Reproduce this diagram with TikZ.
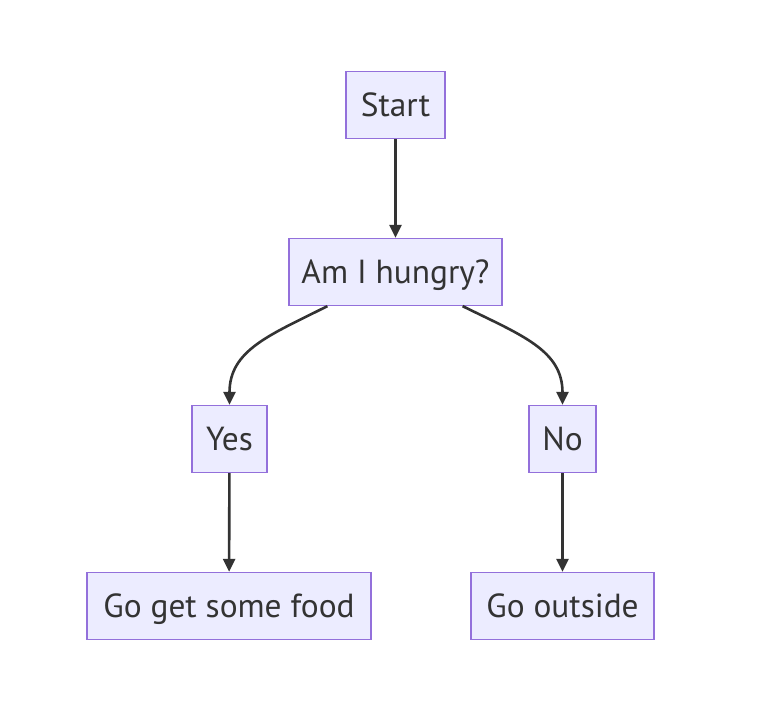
\documentclass[tikz,border=0pt]{standalone}
\usepackage{fontspec}
\setmainfont{PT Sans}
\usetikzlibrary{arrows.meta}
\definecolor{boxfill}{HTML}{ECECFF}
\definecolor{boxline}{HTML}{9370DB}
\definecolor{edgecol}{HTML}{333333}
\definecolor{textcol}{HTML}{333333}
\tikzset{
  flowbox/.style={draw=boxline, fill=boxfill, line width=1.3bp, inner sep=0pt,
    minimum height=67bp, text=textcol, text height=32bp, text depth=8.5bp,
    font=\fontsize{33.5}{40}\selectfont},
  flowedge/.style={draw=edgecol, line width=2.6bp, -{Triangle[length=13bp,width=12bp]}}
}
\begin{document}
\begin{tikzpicture}[x=1bp,y=-1bp]
\useasboundingbox (0,0) rectangle (764,718);
\node[flowbox, minimum width=99bp] (start) at (395.5,105) {Start};
\node[flowbox, minimum width=213bp] (hungry) at (395.5,272) {Am I hungry?};
\node[flowbox, minimum width=75bp] (yes) at (229.5,439) {Yes};
\node[flowbox, minimum width=67bp] (no) at (562.5,439) {No};
\node[flowbox, minimum width=284bp] (food) at (229,606) {Go get some food};
\node[flowbox, minimum width=183bp] (outside) at (562.5,606) {Go outside};
\draw[flowedge] (start) -- (hungry);
\draw[flowedge] ([xshift=39bp]hungry.south west) .. controls (270,335) and (229.5,350) .. (yes.north);
\draw[flowedge] ([xshift=-40bp]hungry.south east) .. controls (521,335) and (562.5,350) .. (no.north);
\draw[flowedge] (yes) -- (food);
\draw[flowedge] (no) -- (outside);
\end{tikzpicture}
\end{document}
